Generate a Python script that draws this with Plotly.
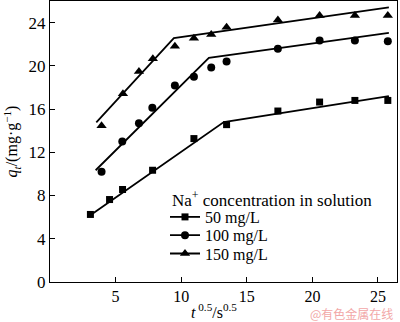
import plotly.graph_objects as go

# Measured data points (x = t^0.5 / s^0.5, y = q_t / (mg/g))
x50 = [3.08, 4.54, 5.53, 7.82, 10.97, 13.46, 17.37, 20.55, 23.24, 25.75]
y50 = [6.25, 7.63, 8.56, 10.34, 13.27, 14.56, 15.82, 16.65, 16.80, 16.80]

x100 = [3.93, 5.51, 6.78, 7.80, 9.52, 10.97, 12.29, 13.46, 17.37, 20.55, 23.24, 25.75]
y100 = [10.19, 12.99, 14.68, 16.13, 18.19, 18.99, 19.85, 20.40, 21.58, 22.35, 22.35, 22.28]

x150 = [3.93, 5.56, 6.78, 7.84, 9.52, 10.97, 12.29, 13.46, 17.37, 20.55, 23.24, 25.75]
y150 = [14.45, 17.42, 19.48, 20.65, 21.82, 22.56, 22.90, 23.57, 24.25, 24.65, 24.65, 24.65]

# Piecewise linear fit lines (start, break, end)
fit_x50 = [3.10, 13.25, 25.83]
fit_y50 = [6.20, 14.80, 17.20]
fit_x100 = [3.48, 12.11, 25.83]
fit_y100 = [10.34, 20.75, 23.05]
fit_x150 = [3.53, 9.44, 25.83]
fit_y150 = [14.77, 22.56, 25.42]

labels = ["50 mg/L", "100 mg/L", "150 mg/L"]
legend_title = "Na<sup>+</sup> concentration in solution"
x_title = "<i>t</i><sup> 0.5</sup>/s<sup>0.5</sup>"
y_title = "<i>q</i><sub><i>t</i></sub>/(mg·g<sup>−1</sup>)"
symbols = ["square", "circle", "triangle-up"]
sizes = [7, 8, 9]

FONT = "Liberation Serif"
W, H = 400, 322
ML, MR, MT, MB = 50, 3, 1, 40
PW, PH = W - ML - MR, H - MT - MB


def px_to_paper(px, py):
    return (px - ML) / PW, (H - MB - py) / PH


fig = go.Figure()
series = [(x50, y50, fit_x50, fit_y50), (x100, y100, fit_x100, fit_y100), (x150, y150, fit_x150, fit_y150)]
legend_ids = ["legend", "legend2", "legend3"]
for (xs, ys, fx, fy), lab, sym, sz, lid in zip(series, labels, symbols, sizes, legend_ids):
    fig.add_trace(go.Scatter(x=fx, y=fy, mode="lines", line=dict(color="black", width=1.8),
                             showlegend=False, hoverinfo="skip"))
    fig.add_trace(go.Scatter(x=xs, y=ys, mode="markers", showlegend=False,
                             marker=dict(symbol=sym, size=sz, color="black")))
    # legend entry showing line + marker
    fig.add_trace(go.Scatter(x=[None], y=[None], mode="lines+markers", name=lab, legend=lid,
                             showlegend=True,
                             line=dict(color="black", width=1.8),
                             marker=dict(symbol=sym, size=sz, color="black")))

legend_rows_py = [217.0, 235.3, 253.6]
legend_left_px = 165
leg_common = dict(font=dict(size=16, family=FONT), xanchor="left", yanchor="middle",
                  bgcolor="rgba(0,0,0,0)", borderwidth=0, itemwidth=30)
legs = {}
for lid, py in zip(legend_ids, legend_rows_py):
    lx, ly = px_to_paper(legend_left_px, py)
    legs[lid] = dict(x=lx, y=ly, **leg_common)

tx, ty = px_to_paper(170, 198.5)
wx, wy = px_to_paper(395, 313)
xtx, xty = px_to_paper(214, 311)

fig.update_layout(
    width=W, height=H,
    margin=dict(l=ML, r=MR, t=MT, b=MB),
    paper_bgcolor="white", plot_bgcolor="white",
    font=dict(family=FONT, size=16, color="black"),
    showlegend=True,
    **legs,
    xaxis=dict(
        range=[0, 26.45], tickvals=[5, 10, 15, 20, 25], ticks="inside", ticklen=5,
        tickwidth=1, tickcolor="black", showline=True, linecolor="black", linewidth=1.2,
        mirror=True, showgrid=False, zeroline=False,
        tickfont=dict(size=16, family=FONT),
    ),
    yaxis=dict(
        range=[0, 26], tickvals=[0, 4, 8, 12, 16, 20, 24], ticks="inside", ticklen=5,
        tickwidth=1, tickcolor="black", showline=True, linecolor="black", linewidth=1.2,
        mirror=True, showgrid=False, zeroline=False,
        tickfont=dict(size=17, family=FONT),
        title=dict(text=y_title, font=dict(size=16, family=FONT), standoff=6),
    ),
    annotations=[
        dict(text=x_title, xref="paper", yref="paper", x=xtx, y=xty,
             xanchor="center", yanchor="middle", showarrow=False,
             font=dict(size=16, family=FONT)),
        dict(text=legend_title, xref="paper", yref="paper", x=tx, y=ty,
             xanchor="left", yanchor="middle", showarrow=False,
             font=dict(size=17, family=FONT)),
        dict(text="@有色金属在线", xref="paper", yref="paper", x=wx, y=wy,
             xanchor="right", yanchor="middle", showarrow=False,
             font=dict(size=12, color="#f2a7a7", family="Noto Sans CJK SC")),
    ],
)

fig.write_html("out.html")
